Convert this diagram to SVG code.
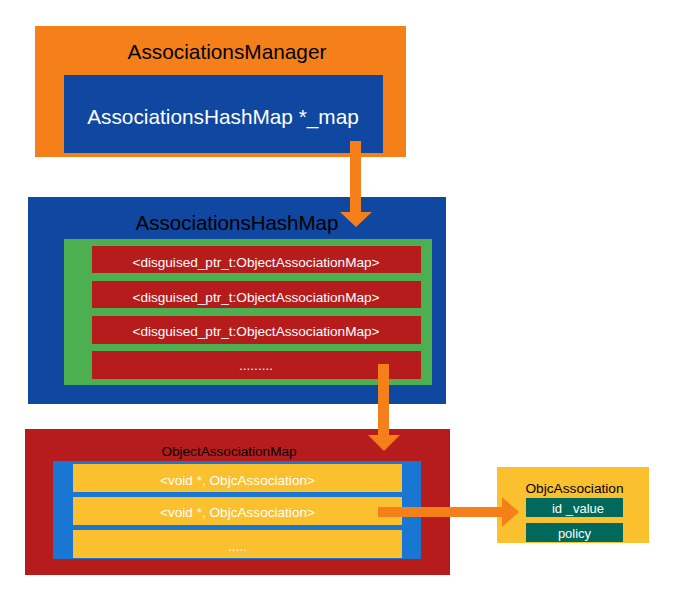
<svg xmlns="http://www.w3.org/2000/svg" width="675" height="600" viewBox="0 0 675 600">
<style>
text{font-family:"Liberation Sans","DejaVu Sans",sans-serif;text-anchor:middle;dominant-baseline:central}
.t{fill:#000}
.w{fill:#fff}
.red{fill:#B71C1C}
.yel{fill:#FBC02D}
.teal{fill:#00695C}
.arr{fill:#F5801A}
.row{font-size:13.6px}
</style>
<rect width="675" height="600" fill="#fff"/>
<g id="manager">
<rect x="35" y="26" width="371" height="131" fill="#F5801A"/>
<text class="t" x="227" y="51" font-size="20.8">AssociationsManager</text>
<rect x="64" y="75" width="319" height="78" fill="#0F47A1"/>
<text class="w" x="223" y="116" font-size="20.8">AssociationsHashMap *_map</text>
</g>
<g id="hashmap">
<rect x="28" y="197" width="418" height="207" fill="#0F47A1"/>
<text class="t" x="237" y="222" font-size="20.5">AssociationsHashMap</text>
<rect x="64" y="239" width="368" height="146" fill="#4CAF50"/>
<rect class="red" x="92" y="246" width="329" height="27"/>
<text class="w row" x="256" y="262">&lt;disguised_ptr_t:ObjectAssociationMap&gt;</text>
<rect class="red" x="92" y="281" width="329" height="27"/>
<text class="w row" x="256" y="297">&lt;disguised_ptr_t:ObjectAssociationMap&gt;</text>
<rect class="red" x="92" y="316" width="329" height="28"/>
<text class="w row" x="256" y="331">&lt;disguised_ptr_t:ObjectAssociationMap&gt;</text>
<rect class="red" x="92" y="351" width="329" height="28"/>
<text class="w row" x="256" y="365">.........</text>
</g>
<g id="objmap">
<rect class="red" x="25" y="429" width="425" height="146"/>
<text class="t" x="229" y="451" font-size="13.6">ObjectAssociationMap</text>
<rect x="53" y="461" width="368" height="98" fill="#1976D2"/>
<rect class="yel" x="73" y="464" width="329" height="28"/>
<text class="w row" x="237.5" y="480">&lt;void *, ObjcAssociation&gt;</text>
<rect class="yel" x="73" y="497" width="329" height="28"/>
<text class="w row" x="237.5" y="512">&lt;void *, ObjcAssociation&gt;</text>
<rect class="yel" x="73" y="530" width="329" height="28"/>
<text class="w row" x="237.5" y="546">.....</text>
</g>
<g id="objcassoc">
<rect class="yel" x="497" y="467" width="152" height="76"/>
<text class="t" x="574.5" y="488" font-size="13.7">ObjcAssociation</text>
<rect class="teal" x="526" y="498" width="97" height="19"/>
<text class="w" x="578" y="508" font-size="13">id _value</text>
<rect class="teal" x="526" y="523" width="97" height="19"/>
<text class="w" x="574.5" y="533" font-size="13">policy</text>
</g>
<g id="connectors">
<polygon class="arr" points="350,141 361,141 361,212 372,212 356,227 340,212 350,212"/>
<polygon class="arr" points="378,364 389,364 389,435 400,435 384,451 368,435 378,435"/>
<polygon class="arr" points="378,507 502,507 502,497 519,512 502,527 502,517 378,517"/>
</g>
</svg>
